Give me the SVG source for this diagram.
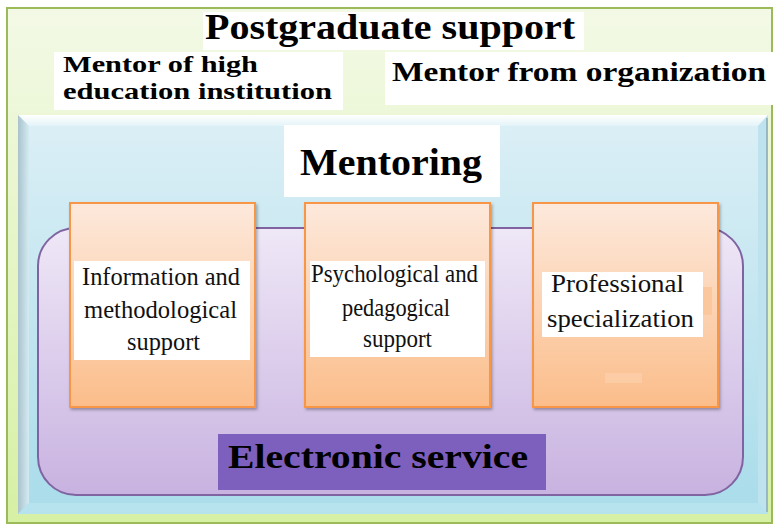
<svg xmlns="http://www.w3.org/2000/svg" width="773" height="526" viewBox="0 0 773 526">
<defs>
<linearGradient id="gGreen" x1="0" y1="0" x2="0" y2="1"><stop offset="0" stop-color="#f3f9e6"/><stop offset="1" stop-color="#d6f0a4"/></linearGradient>
<linearGradient id="gBlue" x1="0" y1="0" x2="0" y2="1"><stop offset="0" stop-color="#dceff6"/><stop offset="1" stop-color="#a9dcea"/></linearGradient>
<linearGradient id="gTopBevel" x1="0" y1="0" x2="0" y2="1"><stop offset="0" stop-color="#ffffff"/><stop offset="1" stop-color="#e4f3f8"/></linearGradient>
<linearGradient id="gLeftBevel" x1="0" y1="0" x2="1" y2="0"><stop offset="0" stop-color="#a9c2cc"/><stop offset="1" stop-color="#d4ebf2"/></linearGradient>
<linearGradient id="gPurple" x1="0" y1="0" x2="0" y2="1"><stop offset="0" stop-color="#efe8f7"/><stop offset="1" stop-color="#c8b2e0"/></linearGradient>
<linearGradient id="gOrange" x1="0" y1="0" x2="0" y2="1"><stop offset="0" stop-color="#fde9dc"/><stop offset="1" stop-color="#fbbd8a"/></linearGradient>
<filter id="shadow" x="-10%" y="-10%" width="120%" height="120%"><feDropShadow dx="1.5" dy="2" stdDeviation="1.5" flood-color="#000" flood-opacity="0.3"/></filter>
</defs>
<style>
.ttl{font-family:'Liberation Serif','Times New Roman',serif;font-weight:bold;fill:#000}
.txt{font-family:'Liberation Serif','Times New Roman',serif;font-size:25px;fill:#111}
.wbox{fill:#ffffff}
.obox{fill:url(#gOrange);stroke:#f79646;stroke-width:2}
</style>

<g id="postgraduate-support">
<rect x="7" y="8" width="765" height="515" fill="url(#gGreen)" stroke="#9bbb59" stroke-width="2"/>
<rect class="wbox" x="203" y="12" width="381" height="38"/>
<text class="ttl" x="205" y="39" font-size="36" textLength="370" lengthAdjust="spacingAndGlyphs">Postgraduate support</text>
</g>

<g id="mentor-hei">
<rect class="wbox" x="54" y="52" width="289" height="58"/>
<text class="ttl" x="63" y="72" font-size="23" textLength="195" lengthAdjust="spacingAndGlyphs">Mentor of high</text>
<text class="ttl" x="63" y="99" font-size="23" textLength="269" lengthAdjust="spacingAndGlyphs">education institution</text>
</g>

<g id="mentor-org">
<rect class="wbox" x="385" y="52" width="388" height="53"/>
<text class="ttl" x="392" y="81" font-size="27" textLength="374" lengthAdjust="spacingAndGlyphs">Mentor from organization</text>
</g>

<g id="mentoring">
<rect x="18" y="115" width="750" height="399" fill="url(#gBlue)"/>
<polygon points="18,115 768,115 758,126 29,126" fill="url(#gTopBevel)"/>
<polygon points="18,115 29,126 29,503 18,514" fill="url(#gLeftBevel)"/>
<polygon points="768,115 768,514 758,503 758,126" fill="#bfe3ee"/>
<line x1="767" y1="118" x2="767" y2="512" stroke="#98b8c4" stroke-width="2"/>
<polygon points="18,514 768,514 758,503 29,503" fill="#b7e3ee"/>
<rect class="wbox" x="284" y="125" width="216" height="72"/>
<text class="ttl" x="300" y="175" font-size="38" textLength="182" lengthAdjust="spacingAndGlyphs">Mentoring</text>
</g>

<g id="electronic-service">
<rect x="38" y="228" width="705" height="267" rx="38" ry="38" fill="url(#gPurple)" stroke="#8064a2" stroke-width="2"/>
<rect x="218" y="434" width="328" height="56" fill="#7d5fbd"/>
<text class="ttl" x="228" y="468" font-size="34" textLength="300" lengthAdjust="spacingAndGlyphs">Electronic service</text>
</g>

<g id="info-methodological">
<rect class="obox" x="70" y="203" width="185" height="204" filter="url(#shadow)"/>
<rect class="wbox" x="74" y="261" width="176" height="99"/>
<text class="txt" x="82" y="285" textLength="158" lengthAdjust="spacingAndGlyphs">Information and</text>
<text class="txt" x="84" y="318" textLength="153" lengthAdjust="spacingAndGlyphs">methodological</text>
<text class="txt" x="127" y="350" textLength="73" lengthAdjust="spacingAndGlyphs">support</text>
</g>

<g id="psych-pedagogical">
<rect class="obox" x="305" y="203" width="185" height="204" filter="url(#shadow)"/>
<rect class="wbox" x="310" y="261" width="175" height="96"/>
<text class="txt" x="311" y="282" textLength="167" lengthAdjust="spacingAndGlyphs">Psychological and</text>
<text class="txt" x="342" y="316" textLength="108" lengthAdjust="spacingAndGlyphs">pedagogical</text>
<text class="txt" x="363" y="347" textLength="69" lengthAdjust="spacingAndGlyphs">support</text>
</g>

<g id="professional-specialization">
<rect class="obox" x="533" y="203" width="185" height="204" filter="url(#shadow)"/>
<rect x="703" y="287" width="9" height="28" fill="#fbc79c"/>
<rect x="605" y="373" width="37" height="10" fill="#fdd2b0" opacity="0.6"/>
<rect class="wbox" x="542" y="272" width="161" height="65"/>
<text class="txt" x="551" y="292" textLength="133" lengthAdjust="spacingAndGlyphs">Professional</text>
<text class="txt" x="547" y="327" textLength="147" lengthAdjust="spacingAndGlyphs">specialization</text>
</g>

<g id="connectors"></g>
</svg>
